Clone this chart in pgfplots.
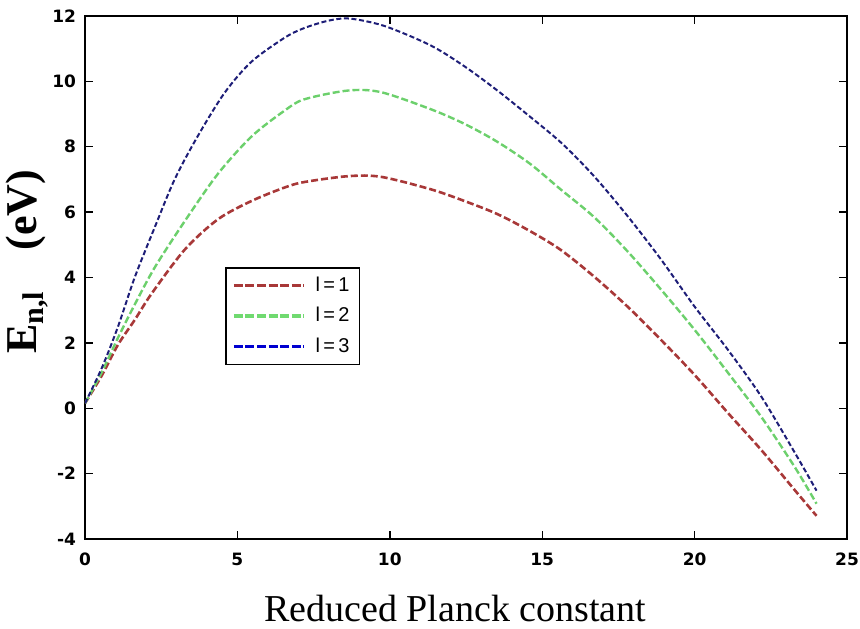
\documentclass[border=0pt]{standalone}
\usepackage{fontspec}
\setmainfont{Liberation Serif}
\newfontfamily\tickfont{DejaVu Sans}
\newfontfamily\legfont{Liberation Sans}
\usepackage{pgfplots}
\pgfplotsset{compat=1.18}
\definecolor{cred}{HTML}{A83838}
\definecolor{cgreen}{HTML}{6CD06C}
\definecolor{cblue}{HTML}{1E1E78}
\definecolor{lred}{HTML}{A83838}
\definecolor{lgreen}{HTML}{70DA70}
\definecolor{lblue}{HTML}{0000D0}
\begin{document}
\begin{tikzpicture}
\begin{axis}[
  scale only axis, width=381pt, height=261.5pt,
  xmin=0, xmax=25, ymin=-4, ymax=12,
  xtick={0,5,...,25}, ytick={-4,-2,...,12},
  tick align=inside, major tick length=4pt,
  axis line style={line width=0.8pt},
  tick style={line width=0.7pt, black},
  ticklabel style={font=\tickfont\bfseries\fontsize{8.5}{10}\selectfont},
  /pgf/number format/assume math mode=true,
  xticklabel style={yshift=-3.5pt},
  yticklabel style={xshift=-1pt},
  xlabel={Reduced Planck constant},
  xlabel style={at={(axis description cs:0.486,-0.158)}, anchor=base,
                font=\fontsize{19}{21}\selectfont},
  ylabel={\bfseries E\raisebox{-0.3ex}{\fontsize{15}{15}\selectfont n,l}\hspace{0.95em}(eV)},
  ylabel style={at={(axis description cs:-0.076,0.53)}, anchor=center,
                font=\fontsize{22}{25}\selectfont},
  legend style={at={(0.184,0.52)}, anchor=north west, draw=black, line width=0.8pt,
                font=\legfont\fontsize{10}{11}\selectfont,
                inner xsep=3pt, inner ysep=2.5pt, row sep=2.5pt},
  legend cell align=left,
  legend image code/.code={\draw[#1] (0pt,0pt) -- (35pt,0pt);},
]
% l = 1
\addplot[forget plot, smooth, tension=0.5, cred, line width=1.3pt, dash pattern=on 3.5pt off 1.5pt] coordinates {
(0,0.15) (0.55,1.0) (1.08,1.94) (1.63,2.7) (2.18,3.5) (3.27,4.85) (4.36,5.78)
(5.46,6.34) (6.54,6.75) (7.19,6.92) (8.63,7.1) (9.71,7.08) (11.34,6.7)
(12.45,6.34) (13.53,5.94) (14.6,5.42) (15.6,4.85) (16.7,4.03) (17.8,3.11)
(18.9,2.09) (20.0,1.02) (21.1,-0.15) (22.2,-1.29) (23.3,-2.52) (24.0,-3.29)};
% l = 2
\addplot[forget plot, smooth, tension=0.5, cgreen, line width=1.2pt, dash pattern=on 3.5pt off 1.5pt] coordinates {
(0,0.15) (0.55,1.1) (1.08,2.15) (1.63,3.17) (2.29,4.31) (3.27,5.72) (4.36,7.17)
(5.46,8.31) (6.54,9.1) (7.19,9.45) (8.63,9.72) (9.71,9.67) (11.34,9.15)
(12.45,8.7) (13.53,8.15) (14.6,7.48) (15.6,6.7) (16.7,5.85) (17.8,4.8)
(18.9,3.63) (20.0,2.4) (21.1,1.08) (22.2,-0.28) (23.3,-1.82) (24.0,-2.92)};
% l = 3
\addplot[forget plot, smooth, tension=0.5, cblue, line width=1pt, dash pattern=on 2.5pt off 1.3pt] coordinates {
(0,0.15) (0.55,1.23) (1.08,2.49) (1.63,4.0) (2.29,5.54) (2.94,7.0) (3.69,8.31)
(4.58,9.65) (5.46,10.6) (6.54,11.33) (7.19,11.63) (8.0,11.86) (8.7,11.92)
(9.84,11.69) (11.34,11.1) (12.45,10.46) (13.53,9.72) (14.6,8.92) (15.65,8.1)
(16.7,7.1) (17.8,5.88) (18.9,4.55) (20.0,3.11) (21.1,1.78) (22.2,0.34)
(23.3,-1.38) (24.0,-2.52)};
\addlegendimage{lred, line width=1.5pt, dash pattern=on 4.5pt off 1.3pt}
\addlegendentry{\hspace{3pt}l\,=\,1}
\addlegendimage{lgreen, line width=1.8pt, dash pattern=on 4.5pt off 1.3pt}
\addlegendentry{\hspace{3pt}l\,=\,2}
\addlegendimage{lblue, line width=1.5pt, dash pattern=on 4.5pt off 1.3pt}
\addlegendentry{\hspace{3pt}l\,=\,3}
\end{axis}
\pgfresetboundingbox
\path[use as bounding box] ([shift={(-42.5pt,-44.5pt)}]current axis.south west)
  rectangle ([shift={(6.5pt,8pt)}]current axis.north east);
\end{tikzpicture}
\end{document}
